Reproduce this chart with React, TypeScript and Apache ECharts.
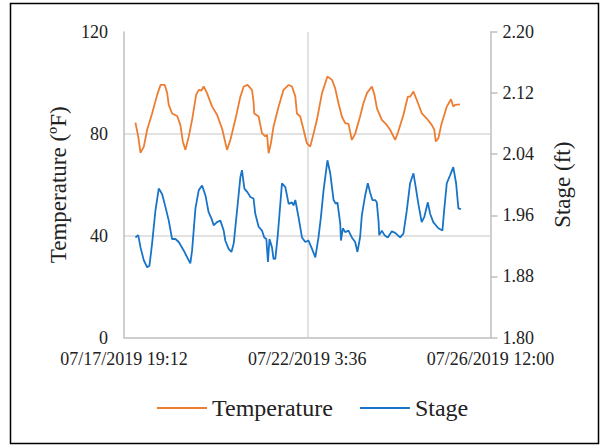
import React, { useEffect, useRef } from "react";
import * as echarts from "echarts";

// hours after 07/17/2019 19:12
const tempHours = [6.5,8.1,9.4,11.3,13.2,16.0,18.9,20.8,23.2,24.6,25.5,27.4,30.3,32.1,33.5,35.0,36.9,38.8,41.1,42.6,44.1,45.4,47.3,50.2,53.0,55.9,58.7,60.6,63.4,66.3,68.2,70.4,72.9,73.8,74.2,76.7,78.6,80.5,81.5,82.4,83.7,85.2,88.1,90.9,93.8,95.7,97.6,98.5,100.4,102.3,104.2,106.1,107.6,109.9,112.8,115.9,118.5,120.3,122.2,124.1,126.0,127.9,129.8,131.7,134.5,136.4,138.4,141.2,142.7,144.1,146.9,149.7,151.6,154.5,156.3,159.2,161.7,163.0,164.9,166.8,169.7,172.5,175.3,176.8,177.6,179.1,181.0,183.9,186.3,187.6,188.6,191.4];
const tempValues = [84.4,79,72.5,75,81.6,88,95.3,99.2,99.2,96,91.4,88,87,83.5,77,73.7,79,85.5,95.3,97.3,97,98.6,96,90.7,87.5,82,73.7,77.6,85.5,94.6,98.6,99.2,97.3,92.7,88,86.8,80.3,79,79.6,72.4,76.3,82.9,90.7,97.3,99.2,98.6,94.7,88,86.8,81.6,76.3,75,79,85.5,96,102.5,101.2,97.9,92,86.8,84.2,83.9,77.6,80,86.8,92,96,98.6,95.3,90,85.5,83.5,81.6,77.6,81,87.5,94.6,94.6,96.6,93.3,88,86,83.5,81.6,77,78.3,84.2,90.7,93.6,90.7,91.4,91.6];

const stageHours = [6.5,8.1,9.4,11.3,13.2,14.5,16.0,17.9,19.8,21.7,23.6,25.5,27.4,29.3,31.2,34.0,36.0,37.8,38.8,40.7,42.6,44.5,46.4,48.2,49.8,51.1,53.0,54.9,56.8,57.7,59.6,61.2,62.5,64.4,66.3,67.2,68.6,70.4,72.0,73.8,74.8,76.7,78.6,79.9,81.1,82.0,82.9,84.3,85.2,86.2,87.5,88.6,90.0,91.9,93.8,95.7,96.6,97.6,99.4,101.4,103.3,105.1,107.1,109.0,110.8,112.2,113.7,115.9,117.5,119.4,120.7,121.6,123.2,123.6,124.7,126.0,127.9,129.8,131.7,133.0,134.5,135.5,137.4,138.9,140.2,141.5,143.1,144.0,145.0,145.4,146.9,148.4,150.3,152.6,154.5,157.3,159.2,161.1,163.0,164.9,166.2,167.7,169.6,171.1,173.1,174.4,176.2,179.1,181.4,182.5,183.9,185.7,187.6,189.2,190.5,192.0];
const stageValues = [1.931,1.934,1.918,1.901,1.892,1.894,1.923,1.966,1.995,1.988,1.971,1.953,1.929,1.929,1.925,1.914,1.905,1.897,1.914,1.969,1.993,1.999,1.986,1.964,1.956,1.947,1.951,1.953,1.940,1.927,1.916,1.912,1.923,1.966,2.010,2.019,1.995,1.990,1.984,1.982,1.962,1.945,1.940,1.931,1.929,1.899,1.929,1.918,1.903,1.903,1.931,1.962,2.002,1.997,1.975,1.977,1.973,1.980,1.958,1.931,1.925,1.927,1.916,1.905,1.931,1.958,1.993,2.032,2.015,1.980,1.975,1.977,1.949,1.927,1.943,1.938,1.940,1.931,1.925,1.912,1.931,1.960,1.986,2.002,1.990,1.980,1.980,1.977,1.953,1.934,1.940,1.934,1.931,1.939,1.937,1.931,1.936,1.966,2.002,2.015,1.997,1.975,1.951,1.958,1.977,1.962,1.951,1.943,1.940,1.969,2.002,2.012,2.023,2.002,1.969,1.968];

const seriesNames = ["Temperature", "Stage"];
const START_MS = Date.UTC(2019, 6, 17, 19, 12);
const X_MAX_HOURS = 208.8; // 07/26/2019 12:00
const X_INTERVAL = 104.4;

const pad = (n: number) => (n < 10 ? "0" + n : "" + n);
const fmtDate = (h: number) => {
  const d = new Date(Math.round(START_MS + h * 3600000));
  return `${pad(d.getUTCMonth() + 1)}/${pad(d.getUTCDate())}/${d.getUTCFullYear()} ${d.getUTCHours()}:${pad(d.getUTCMinutes())}`;
};

const FONT = "Liberation Serif";
const TXT = "#222222";

export default function App() {
  const ref = useRef<HTMLDivElement>(null);
  useEffect(() => {
    if (!ref.current) return;
    const chart = echarts.init(ref.current, null, { renderer: "svg" });
    chart.setOption({
      animation: false,
      backgroundColor: "#ffffff",
      grid: { left: 124, right: 116.5, top: 32, bottom: 110.5 },
      legend: {
        data: seriesNames,
        left: 152,
        top: 391,
        icon: "rect",
        itemWidth: 50,
        itemHeight: 2,
        itemGap: 27,
        textStyle: { fontFamily: FONT, fontSize: 24, color: TXT },
      },
      graphic: [
        {
          type: "rect",
          shape: { x: 10.5, y: 3.5, width: 588, height: 440 },
          style: { fill: "none", stroke: "#000000", lineWidth: 1.5 },
          silent: true,
        },
      ],
      xAxis: {
        type: "value",
        min: 0,
        max: X_MAX_HOURS,
        interval: X_INTERVAL,
        axisLine: { show: true, onZero: false, lineStyle: { color: "#bfbfbf", width: 1.5 } },
        axisTick: { show: false },
        splitLine: { show: true, showMinLine: false, showMaxLine: false, lineStyle: { color: "#d9d9d9", width: 1.5 } },
        axisLabel: {
          formatter: (v: number) => fmtDate(v),
          fontFamily: FONT,
          fontSize: 18,
          color: TXT,
          margin: 12,
          showMinLabel: true,
          showMaxLabel: true,
        },
      },
      yAxis: [
        {
          type: "value",
          min: 0,
          max: 120,
          interval: 40,
          position: "left",
          name: "Temperature (\u00BAF)",
          nameLocation: "middle",
          nameGap: 49,
          nameTextStyle: { fontFamily: FONT, fontSize: 23, color: TXT },
          axisLine: { show: true, lineStyle: { color: "#bfbfbf", width: 1.5 } },
          axisTick: { show: false },
          splitLine: { show: true, showMinLine: false, showMaxLine: false, lineStyle: { color: "#d9d9d9", width: 1.5 } },
          axisLabel: { fontFamily: FONT, fontSize: 18, color: TXT, margin: 16 },
        },
        {
          type: "value",
          min: 1.8,
          max: 2.2,
          interval: 0.08,
          position: "right",
          name: "Stage (ft)",
          nameLocation: "middle",
          nameGap: 60,
          nameRotate: 90,
          nameTextStyle: { fontFamily: FONT, fontSize: 23, color: TXT },
          axisLine: { show: true, lineStyle: { color: "#bfbfbf", width: 1.5 } },
          axisTick: { show: true, inside: false, length: 7, lineStyle: { color: "#bfbfbf", width: 1.5 } },
          splitLine: { show: false },
          axisLabel: {
            fontFamily: FONT,
            fontSize: 18,
            color: TXT,
            margin: 12,
            formatter: (v: number) => v.toFixed(2),
          },
        },
      ],
      series: [
        {
          name: seriesNames[0],
          type: "line",
          yAxisIndex: 0,
          showSymbol: false,
          symbol: "none",
          color: "#ED7D31",
          lineStyle: { color: "#ED7D31", width: 1.8 },
          data: tempHours.map((h, i) => [h, tempValues[i]]),
        },
        {
          name: seriesNames[1],
          type: "line",
          yAxisIndex: 1,
          showSymbol: false,
          symbol: "none",
          color: "#1874C8",
          lineStyle: { color: "#1874C8", width: 1.8 },
          data: stageHours.map((h, i) => [h, stageValues[i]]),
        },
      ],
    });
    return () => chart.dispose();
  }, []);
  return (
    <div
      ref={ref}
      style={{ position: "absolute", left: 0, top: 0, width: 607, height: 448 }}
    />
  );
}
